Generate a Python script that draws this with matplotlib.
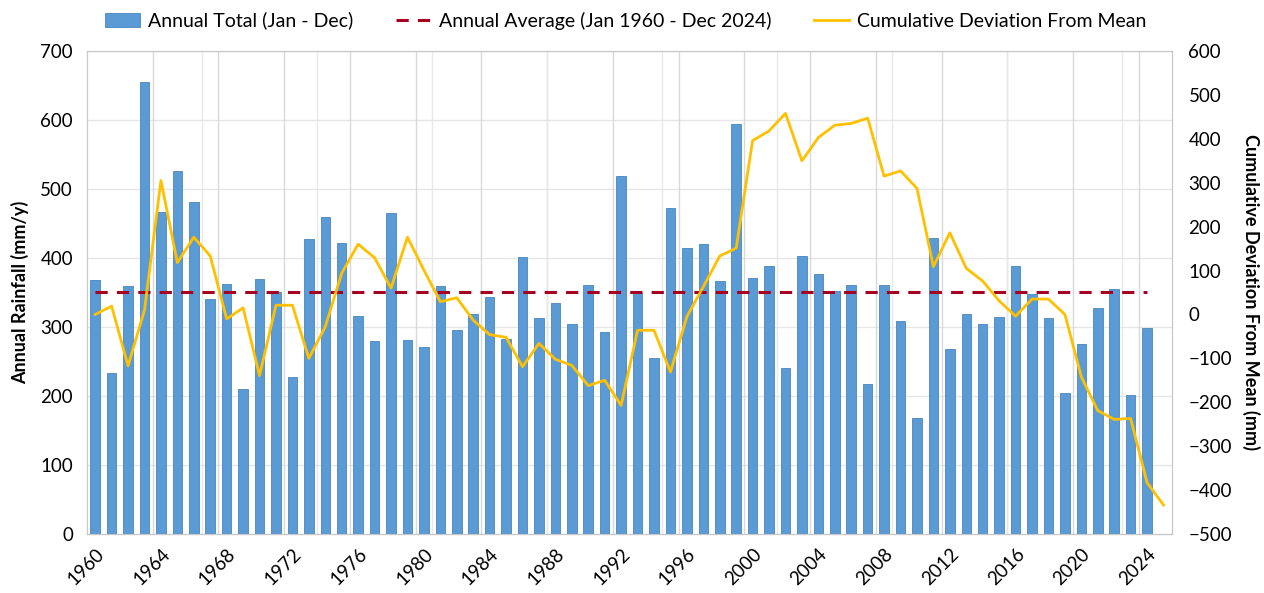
import numpy as np
import matplotlib
matplotlib.use("Agg")
import matplotlib.pyplot as plt
from matplotlib.ticker import MultipleLocator

plt.rcParams['font.family'] = ['Lato', 'DejaVu Sans']

# Annual rainfall totals (mm/y), 1960 - 2024
years = list(range(1960, 2025))
annual_total = [
    368, 233, 360, 655, 466, 526, 481, 340, 363, 210,   # 1960s
    370, 350, 228, 427, 459, 422, 316, 280, 465, 281,   # 1970s
    271, 360, 295, 319, 343, 282, 401, 313, 335, 304,   # 1980s
    361, 293, 519, 349, 255, 473, 415, 420, 367, 594,   # 1990s
    371, 389, 241, 403, 377, 352, 361, 218, 361, 309,   # 2000s
    168, 429, 268, 319, 304, 315, 389, 348, 313, 205,   # 2010s
    275, 328, 355, 201, 298,                            # 2020s
]
annual_average = 350

# Cumulative deviation from mean (mm), 1960 - 2025
cum_years = list(range(1960, 2026))
cum_deviation = [
    0, 19, -117, 10, 305, 118, 176, 133, -10, 15,
    -139, 21, 21, -100, -28, 94, 160, 129, 60, 176,
    101, 29, 38, -13, -46, -52, -119, -66, -102, -116,
    -162, -150, -207, -36, -36, -131, -5, 63, 133, 151,
    396, 418, 458, 350, 403, 431, 435, 447, 315, 327,
    287, 109, 186, 105, 76, 31, -4, 35, 35, 0,
    -142, -219, -239, -237, -383, -434,
]
tick_years = list(range(1960, 2025, 4))

fig = plt.figure(figsize=(12.64, 5.93), dpi=100)
ax = fig.add_axes([0.0688, 0.0995, 0.8582, 0.8145])
ax2 = ax.twinx()

# gridlines
for y in range(100, 701, 100):
    ax.axhline(y, color='#e6e6e6', lw=1, zorder=0)
for v in np.arange(1963.5, 2025, 4):
    ax.axvline(v, color='#d9d9d9', lw=1, zorder=0)
for v in np.arange(1966.5, 2025, 7):
    ax.axvline(v, color='#e8e8e8', lw=1, zorder=0)

bars = ax.bar(years, annual_total, width=0.58, color='#5B9BD5',
              edgecolor='#4a86bd', linewidth=0.6, zorder=2,
              label='Annual Total (Jan - Dec)')
avg_line, = ax.plot([years[0], years[-1]], [annual_average, annual_average],
                    color='#A50021', lw=2.2, ls=(0, (4, 3)), zorder=3,
                    label='Annual Average (Jan 1960 - Dec 2024)')
cum_line, = ax2.plot(cum_years, cum_deviation, color='#FFC000', lw=2,
                     zorder=4, label='Cumulative Deviation From Mean')

ax.set_xlim(1959.5, 2025.5)
ax.set_ylim(0, 700)
ax.yaxis.set_major_locator(MultipleLocator(100))
ax2.set_ylim(-500, 600)
ax2.yaxis.set_major_locator(MultipleLocator(100))

ax.set_xticks(tick_years)
ax.set_xticklabels([str(y) for y in tick_years], rotation=45, ha='right',
                   rotation_mode='anchor', fontsize=13.5)
ax.tick_params(axis='x', length=0, pad=8)
ax.tick_params(axis='y', length=0, labelsize=13.5, pad=10)
ax2.tick_params(axis='y', length=0, labelsize=13.5, pad=12)

ax.set_ylabel('Annual Rainfall (mm/y)', fontsize=13, fontweight='bold', labelpad=8)
ax2.set_ylabel('Cumulative Deviation From Mean (mm)', fontsize=13,
               fontweight='bold', rotation=270, labelpad=20)

for a in (ax, ax2):
    for s in a.spines.values():
        s.set_color('#c8c8c8')
ax.spines['bottom'].set_color('#8c8c8c')

ax2.set_zorder(ax.get_zorder() + 1)
ax.patch.set_visible(False)

fig.legend(handles=[bars, avg_line, cum_line], loc='upper center',
           bbox_to_anchor=(0.495, 1.01), ncol=3, frameon=False, fontsize=14,
           columnspacing=2.2, handlelength=1.8, handletextpad=0.4)

fig.savefig('out.png', dpi=100)
